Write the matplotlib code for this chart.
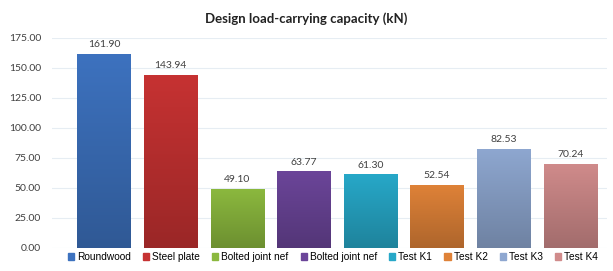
import matplotlib
matplotlib.use("Agg")
import matplotlib.pyplot as plt
import numpy as np

categories = ["Roundwood", "Steel plate", "Bolted joint nef", "Bolted joint nef",
              "Test K1", "Test K2", "Test K3", "Test K4"]
values = [161.90, 143.94, 49.10, 63.77, 61.30, 52.54, 82.53, 70.24]
colors = ["#3d72bf", "#c63232", "#8bb83e", "#6b4599", "#27a8c8", "#df8238", "#8ea7d0", "#d08b8b"]
yticks = [0, 25, 50, 75, 100, 125, 150, 175]

plt.rcParams["font.family"] = ["Lato", "DejaVu Sans"]

fig = plt.figure(figsize=(6.13, 2.71), dpi=100)
ax = fig.add_axes([0.085, 0.085, 0.905, 0.775])

x = np.arange(len(values))
bars = ax.bar(x, values, width=0.8, color=colors, zorder=3)

# vertical gradient: lighter on top, darker at bottom
for bar, c in zip(bars, colors):
    rgb = np.array(matplotlib.colors.to_rgb(c))
    grad = np.linspace(1.0, 0.78, 100)[:, None, None] * rgb[None, None, :]
    grad = np.clip(grad, 0, 1)
    bx, by = bar.get_x(), bar.get_y()
    w, h = bar.get_width(), bar.get_height()
    im = ax.imshow(grad, extent=[bx, bx + w, by, by + h], aspect="auto", zorder=3.5,
                   origin="upper")
    im.set_clip_path(bar)

for xi, v in zip(x, values):
    ax.text(xi, v + 4, f"{v:.2f}", ha="center", va="bottom", fontsize=7.5, color="#404040")

ax.set_xlim(-0.78, 7.55)
ax.set_ylim(0, 175)
ax.set_yticks(yticks)
ax.set_yticklabels([f"{t:.2f}" for t in yticks], fontsize=7.5, color="#404040")
ax.set_xticks([])
ax.tick_params(axis="y", length=0, pad=8)
ax.grid(axis="y", color="#e6edf3", linewidth=0.8, zorder=0)
for s in ax.spines.values():
    s.set_visible(False)

fig.suptitle("Design load-carrying capacity (kN)", x=0.5, y=0.955, fontsize=9.5,
             fontweight="bold", color="#222222")

handles = [plt.Rectangle((0, 0), 1, 1, color=c) for c in colors]
fig.legend(handles, categories, loc="center", bbox_to_anchor=(0.543, 0.052), ncol=8,
           frameon=False, prop={"family": ["Liberation Sans"], "size": 7.3},
           handlelength=0.6, handleheight=0.6,
           handletextpad=0.3, columnspacing=1.2, borderpad=0)

fig.savefig("out.png", dpi=100)
